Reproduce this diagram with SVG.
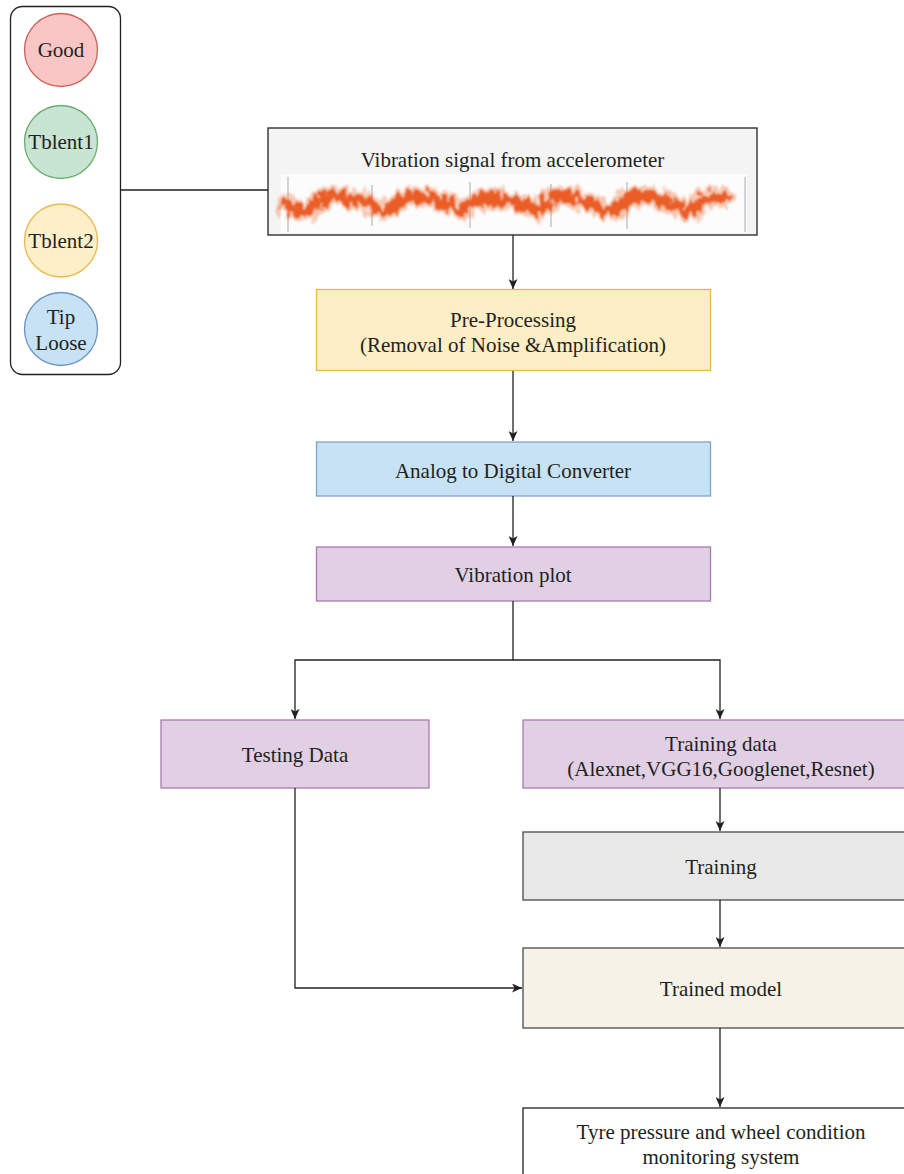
<svg xmlns="http://www.w3.org/2000/svg" width="904" height="1174" viewBox="0 0 904 1174">
<style>
text{font-family:"Liberation Serif","Times New Roman",serif;font-size:21px;fill:#231f20;text-anchor:middle}
.c{fill:none;stroke:#231f20;stroke-width:1.3}
.box{stroke-width:1.3}
</style>
<defs>
<marker id="arr" viewBox="0 0 10 9" refX="10" refY="4.5" markerWidth="10" markerHeight="9" markerUnits="userSpaceOnUse" orient="auto">
<path d="M0,0 L10,4.5 L0,9 L2.6,4.5 z" fill="#231f20"/>
</marker>
<filter id="noise" filterUnits="userSpaceOnUse" x="275" y="168" width="462" height="68">
<feTurbulence type="fractalNoise" baseFrequency="0.16 0.07" numOctaves="3" seed="7" result="t"/>
<feDisplacementMap in="SourceGraphic" in2="t" scale="20" xChannelSelector="R" yChannelSelector="G" result="d"/>
<feGaussianBlur in="d" stdDeviation="0.8"/>
</filter>
</defs>
<rect width="904" height="1174" fill="#fff"/>

<g id="legend">
<rect x="10.5" y="6.5" width="110" height="368" rx="12" fill="#fff" stroke="#231f20" stroke-width="1.3"/>
<g id="good"><circle cx="61" cy="50" r="36.5" fill="#f8c7c5" stroke="#d0615c" stroke-width="1.3"/><text x="61" y="57">Good</text></g>
<g id="tblent1"><circle cx="61" cy="142" r="36.5" fill="#c8e4d2" stroke="#6aad6e" stroke-width="1.3"/><text x="61" y="149">Tblent1</text></g>
<g id="tblent2"><circle cx="61" cy="240.5" r="36.5" fill="#fdefc8" stroke="#ebb94e" stroke-width="1.3"/><text x="61" y="248">Tblent2</text></g>
<g id="tiploose"><circle cx="61" cy="329" r="36.5" fill="#c7e2f5" stroke="#6f93c2" stroke-width="1.3"/><text x="61" y="324">Tip</text><text x="61" y="350">Loose</text></g>
</g>

<g id="signal">
<rect x="268" y="128" width="489" height="107" fill="#f4f4f4" stroke="#231f20" stroke-width="1.3"/>
<text x="512.5" y="167">Vibration signal from accelerometer</text>
<rect x="281" y="174" width="466" height="59" fill="#fcfcfc"/>
<g stroke="#b8b8b8" stroke-width="1.2">
<line x1="288" y1="177" x2="288" y2="232"/>
<line x1="745" y1="177" x2="745" y2="232"/>
<line x1="372" y1="185" x2="372" y2="226"/>
<line x1="470" y1="182" x2="470" y2="228"/>
<line x1="551" y1="184" x2="551" y2="227"/>
<line x1="627" y1="182" x2="627" y2="229"/>
</g>
<g filter="url(#noise)" fill="none" stroke-linejoin="round" stroke-linecap="round">
<path d="M286,204 L292,208 L300,211 L312,210 L320,199 L335,196 L350,199 L365,201 L378,210 L390,209 L400,199 L420,197 L440,200 L450,205 L462,211 L472,202 L490,199 L510,200 L527,206 L540,211 L550,198 L570,196 L590,203 L605,210 L618,210 L628,199 L648,196 L668,202 L680,209 L692,211 L703,200 L715,197 L727,196" stroke="#f3a17a" stroke-width="20" opacity="0.55"/>
<path d="M286,204 L292,208 L300,211 L312,210 L320,199 L335,196 L350,199 L365,201 L378,210 L390,209 L400,199 L420,197 L440,200 L450,205 L462,211 L472,202 L490,199 L510,200 L527,206 L540,211 L550,198 L570,196 L590,203 L605,210 L618,210 L628,199 L648,196 L668,202 L680,209 L692,211 L703,200 L715,197 L727,196" stroke="#ea5d25" stroke-width="11"/>
</g>
</g>

<g id="preprocessing">
<rect class="box" x="316.5" y="289.5" width="394" height="81" fill="#fdeec6" stroke="#ebb650"/>
<text x="513" y="327">Pre-Processing</text>
<text x="513" y="352">(Removal of Noise &amp;Amplification)</text>
</g>

<g id="adc">
<rect class="box" x="316.5" y="442" width="394" height="54" fill="#c7e2f4" stroke="#80a4c8"/>
<text x="513" y="478">Analog to Digital Converter</text>
</g>

<g id="vibplot">
<rect class="box" x="316.5" y="547" width="394" height="54" fill="#e1d0e4" stroke="#a879b0"/>
<text x="513" y="582">Vibration plot</text>
</g>

<g id="testing">
<rect class="box" x="161" y="720" width="268" height="68" fill="#e1d0e4" stroke="#a879b0"/>
<text x="295" y="762">Testing Data</text>
</g>

<g id="trainingdata">
<rect class="box" x="523" y="720" width="396" height="68" fill="#e1d0e4" stroke="#a879b0"/>
<text x="721" y="751">Training data</text>
<text x="721" y="776">(Alexnet,VGG16,Googlenet,Resnet)</text>
</g>

<g id="training">
<rect class="box" x="523" y="832" width="396" height="68" fill="#e8e8e8" stroke="#4a4a4a"/>
<text x="721" y="874">Training</text>
</g>

<g id="trainedmodel">
<rect class="box" x="523" y="948" width="396" height="80" fill="#f6f2e8" stroke="#4a4a4a"/>
<text x="721" y="996">Trained model</text>
</g>

<g id="monitoring">
<rect class="box" x="523" y="1108" width="396" height="80" fill="#fff" stroke="#231f20"/>
<text x="721" y="1139">Tyre pressure and wheel condition</text>
<text x="721" y="1164">monitoring system</text>
</g>

<g id="connectors">
<path class="c" d="M121,190 H268"/>
<path class="c" d="M513,235 V289" marker-end="url(#arr)"/>
<path class="c" d="M513,371 V441" marker-end="url(#arr)"/>
<path class="c" d="M513,496 V546" marker-end="url(#arr)"/>
<path class="c" d="M513,601 V660 H295 V719" marker-end="url(#arr)"/>
<path class="c" d="M513,660 H720 V719" marker-end="url(#arr)"/>
<path class="c" d="M720,788 V831" marker-end="url(#arr)"/>
<path class="c" d="M720,900 V947" marker-end="url(#arr)"/>
<path class="c" d="M295,788 V988 H522" marker-end="url(#arr)"/>
<path class="c" d="M720,1028 V1107" marker-end="url(#arr)"/>
</g>
</svg>
